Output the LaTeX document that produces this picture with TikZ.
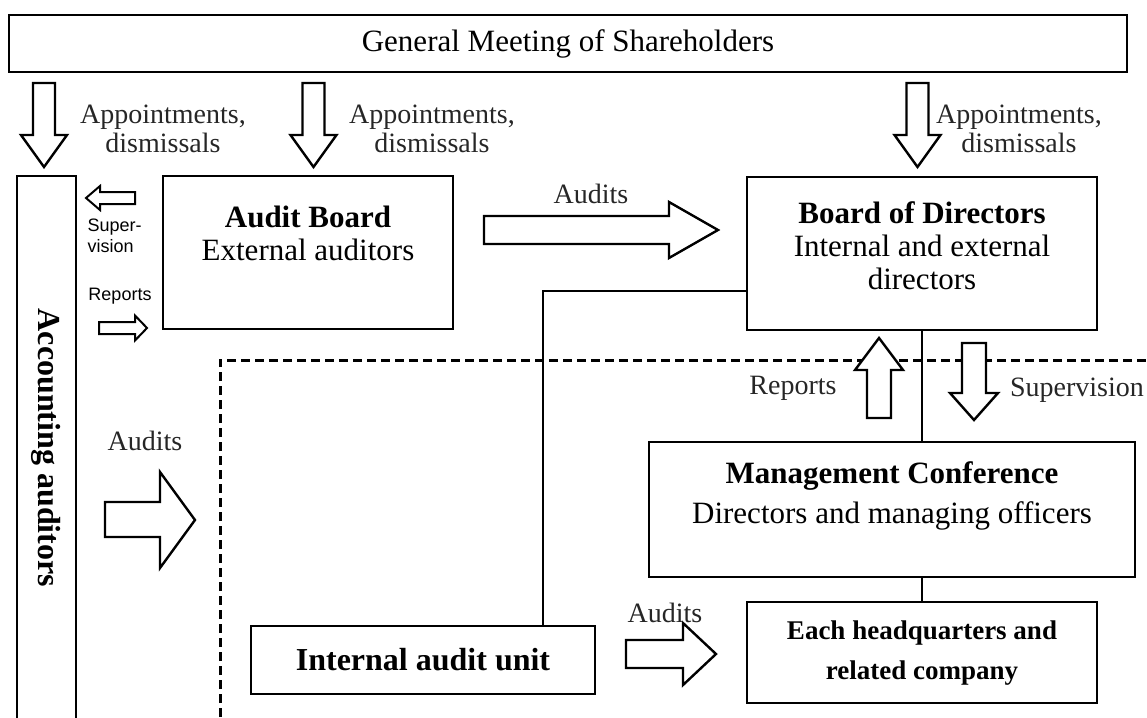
\documentclass[tikz,border=0pt]{standalone}
\usepackage{fontspec}
\setmainfont{Liberation Serif}
\setsansfont{Liberation Sans}
\usetikzlibrary{positioning}

\begin{document}
\begin{tikzpicture}[x=1pt, y=-1pt,
    box/.style={draw, line width=2.6pt, inner sep=0pt},
    boxtext/.style={font=\fontsize{31}{33}\selectfont, align=center},
    lbl/.style={font=\fontsize{28}{29}\selectfont, text=black!85, align=center},
    smalllbl/.style={font=\sffamily\fontsize{18}{21}\selectfont, align=left},
    blockarrow/.style={draw, line width=2.4pt, line join=miter, fill=white},
    region/.style={line width=3pt, dash pattern=on 9pt off 5pt},
    link/.style={line width=2.4pt}]

    \useasboundingbox (0,0) rectangle (1147,717);

    % Dashed border of the executive side
    \draw[region] (220,717) -- (220,360) -- (1147,360);

    % Shareholders' meeting across the top
    \node[box, boxtext, minimum width=1118pt, minimum height=57pt] (gm) at (568,43.5) {General Meeting of Shareholders};

    % Accounting auditors column on the left
    \node[box, minimum width=59pt, minimum height=560pt] (acc) at (46.5,456) {};
    \node[boxtext, font=\bfseries\fontsize{32}{34}\selectfont, rotate=-90] (acctext) at (46.5,448) {Accounting auditors};

    % Audit board and board of directors
    \node[box, minimum width=290pt, minimum height=153pt] (ab) at (308,252.5) {};
    \node[boxtext, baseline] (abtext) at (308,233) {\textbf{Audit Board}\\External auditors};
    \node[box, minimum width=350pt, minimum height=153pt] (bod) at (922,253.5) {};
    \node[boxtext] (bodtext) at (922,246) {\textbf{Board of Directors}\\Internal and external\\directors};

    % Management conference and the units below it
    \node[box, minimum width=486pt, minimum height=135pt] (mc) at (892,509.5) {};
    \node[boxtext, font=\fontsize{31}{40}\selectfont] (mctext) at (892,496) {\textbf{Management Conference}\\Directors and managing officers};
    \node[box, minimum width=350pt, minimum height=101pt] (eh) at (922,652.5) {};
    \node[boxtext, font=\bfseries\fontsize{27}{40}\selectfont] (ehtext) at (922,653) {Each headquarters and\\related company};
    \node[box, boxtext, font=\bfseries\fontsize{32}{34}\selectfont, minimum width=344pt, minimum height=68pt] (iau) at (423,660) {Internal audit unit};

    % Solid connectors between the boxes
    \coordinate (elbow) at (543,291);
    \draw[link] (bod.west |- elbow) -- (elbow) -- (elbow |- iau.north);
    \draw[link] (bod.south) -- (bod.south |- mc.north);
    \draw[link] (eh.north |- mc.south) -- (eh.north);

    % Appointments and dismissals from the meeting
    \draw[blockarrow] (33,83) -- (55,83) -- (55,135) -- (67,135) -- (44,167) -- (21,135) -- (33,135) -- cycle;
    \draw[blockarrow] (302.5,83) -- (324.5,83) -- (324.5,135) -- (336.5,135) -- (313.5,167) -- (290.5,135) -- (302.5,135) -- cycle;
    \draw[blockarrow] (906.5,83) -- (928.5,83) -- (928.5,135) -- (940.5,135) -- (917.5,167) -- (894.5,135) -- (906.5,135) -- cycle;
    \node[lbl] (appt1) at (163,129) {Appointments,\\dismissals};
    \node[lbl] (appt2) at (432,129) {Appointments,\\dismissals};
    \node[lbl] (appt3) at (1019,129) {Appointments,\\dismissals};

    % Small arrows between audit board and accounting auditors
    \draw[blockarrow, line width=2pt] (135,192) -- (100,192) -- (100,186) -- (86,198) -- (100,210) -- (100,204) -- (135,204) -- cycle;
    \node[smalllbl, anchor=west] (supsmall) at (84,236) {Super-\\vision};
    \node[smalllbl] (repsmall) at (120,296) {Reports};
    \draw[blockarrow, line width=2pt] (99,322) -- (135,322) -- (135,315.5) -- (147,328) -- (135,340.5) -- (135,334) -- (99,334) -- cycle;

    % Audits arrows
    \draw[blockarrow] (484,216) -- (669,216) -- (669,202) -- (718,230) -- (669,258) -- (669,244) -- (484,244) -- cycle;
    \node[lbl] (auditstop) at (591,194) {Audits};
    \draw[blockarrow] (105,502) -- (160,502) -- (160,472) -- (195,520) -- (160,568) -- (160,537) -- (105,537) -- cycle;
    \node[lbl] (auditsleft) at (145,441) {Audits};
    \draw[blockarrow] (626,640) -- (683,640) -- (683,623) -- (716,654) -- (683,685) -- (683,668) -- (626,668) -- cycle;
    \node[lbl] (auditsbottom) at (665,613) {Audits};

    % Reports up and supervision down between board and conference
    \draw[blockarrow] (867,418) -- (867,370) -- (855,370) -- (879,338) -- (903,370) -- (891,370) -- (891,418) -- cycle;
    \node[lbl] (reports) at (793,388) {Reports};
    \draw[blockarrow] (962,343) -- (986,343) -- (986,393) -- (998,393) -- (974,420) -- (950,393) -- (962,393) -- cycle;
    \node[lbl] (supervision) at (1077,390) {Supervision};

\end{tikzpicture}
\end{document}
